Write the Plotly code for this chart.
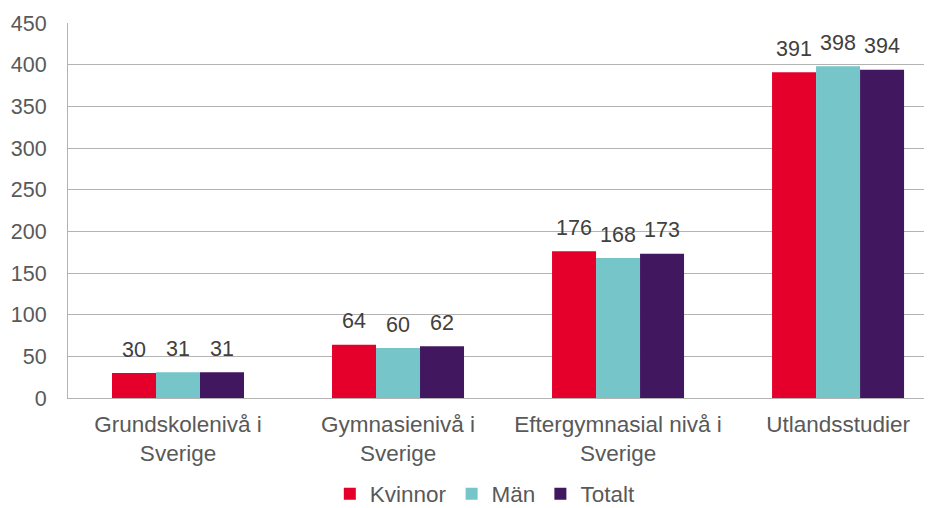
import plotly.graph_objects as go

categories = ["Grundskolenivå i<br>Sverige", "Gymnasienivå i<br>Sverige",
              "Eftergymnasial nivå i<br>Sverige", "Utlandsstudier"]
kvinnor = [30, 64, 176, 391]
man = [31, 60, 168, 398]
totalt = [31, 62, 173, 394]
series_names = ["Kvinnor", "Män", "Totalt"]
colors = ["#E4002B", "#76C5C8", "#41185F"]

FONT = "Liberation Sans, Arial, sans-serif"
fig = go.Figure()
for i, (name, vals, col) in enumerate(zip(series_names, [kvinnor, man, totalt], colors)):
    fig.add_trace(go.Bar(
        x=categories, y=vals, name=name, marker=dict(color=col, line=dict(width=0)),
        offsetgroup=str(i),
    ))
for i, (name, vals) in enumerate(zip(series_names, [kvinnor, man, totalt])):
    fig.add_trace(go.Scatter(
        x=categories, y=vals, mode="markers+text", showlegend=False,
        marker=dict(size=16, opacity=0), text=[str(v) for v in vals],
        textposition="top center", cliponaxis=False, hoverinfo="skip",
        offsetgroup=str(i),
        textfont=dict(family=FONT, size=21.5, color="#404040"),
    ))

# page body has an 8px margin, so the figure is offset by 8px
fig.update_layout(
    width=924, height=500,
    margin=dict(l=60, r=0, t=15, b=110),
    paper_bgcolor="white", plot_bgcolor="white",
    barmode="group", bargap=0.4, bargroupgap=0,
    scattermode="group", scattergap=0.4,
    font=dict(family=FONT, size=22.5, color="#595959"),
    showlegend=True,
    legend=dict(orientation="h", x=0.483, xanchor="center",
                yref="container", y=0.028, yanchor="middle",
                font=dict(family=FONT, size=22.5, color="#595959"),
                itemwidth=30, tracegroupgap=0),
)
fig.update_xaxes(
    range=[-0.5, 3.427], showline=True, linecolor="#B3B3B3", linewidth=1,
    ticks="", tickfont=dict(family=FONT, size=22.5, color="#595959"),
    showgrid=False, automargin=False, ticklabelstandoff=6,
)
fig.update_yaxes(
    range=[0, 450], dtick=50, showline=True, linecolor="#B3B3B3", linewidth=1,
    gridcolor="#B3B3B3", gridwidth=1, zeroline=False, automargin=False,
    tickfont=dict(family=FONT, size=21.5, color="#595959"), ticks="",
    ticklabelstandoff=16,
)
fig.write_html("out.html")
